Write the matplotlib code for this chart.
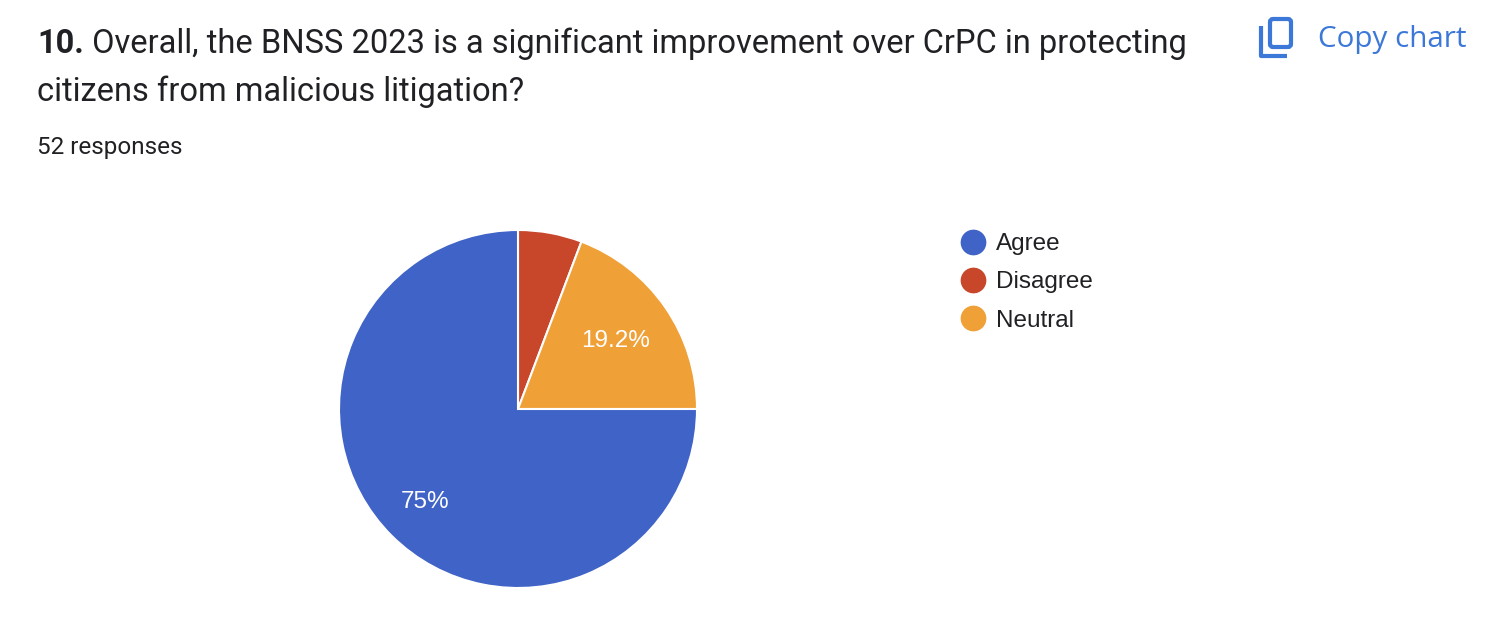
import matplotlib
matplotlib.use("Agg")
import matplotlib.pyplot as plt
from matplotlib.lines import Line2D
from matplotlib.patches import FancyBboxPatch
import numpy as np

# ---- data ----
categories = ["Agree", "Disagree", "Neutral"]
counts = [39, 3, 10]
colors = ["#3f63c6", "#c8462a", "#efa037"]
title_num = "10."
title_line1 = " Overall, the BNSS 2023 is a significant improvement over CrPC in protecting"
title_line2 = "citizens from malicious litigation?"
subtitle = "52 responses"

W, H = 1506, 642
fig = plt.figure(figsize=(W / 100, H / 100), dpi=100)
ax = fig.add_axes([0, 0, 1, 1])
ax.set_xlim(0, W)
ax.set_ylim(0, H)
ax.set_aspect("equal")
ax.axis("off")

def Y(y):
    return H - y

# ---- titles ----
tc = "#202124"
t = ax.text(37, Y(53), title_num, fontsize=23.5, fontweight="bold", family="Roboto", color=tc, va="baseline")
fig.canvas.draw()
bb = t.get_window_extent()
x_after = ax.transData.inverted().transform((bb.x1, 0))[0]
ax.text(x_after, Y(53), title_line1, fontsize=23.5, family="Roboto", color=tc, va="baseline")
ax.text(37, Y(101), title_line2, fontsize=23.5, family="Roboto", color=tc, va="baseline")
ax.text(37, Y(154), subtitle, fontsize=17.5, family="Roboto", color=tc, va="baseline")

# ---- copy chart ----
blue = "#3c78d8"
ax.text(1318, Y(47), "Copy chart", fontsize=21.3, family="Open Sans", color=blue, va="baseline")
ax.add_patch(FancyBboxPatch((1270, Y(47)), 21, 28, boxstyle="round,pad=0,rounding_size=3",
                            fill=False, edgecolor=blue, linewidth=3))
ax.plot([1261.5, 1261.5, 1287], [Y(26), Y(55.5), Y(55.5)], color=blue, linewidth=3,
        solid_capstyle="butt", solid_joinstyle="round")

# ---- pie ----
order = [1, 2, 0]  # drawn clockwise from 12 o'clock: Disagree, Neutral, Agree
vals = [counts[i] for i in order]
cols = [colors[i] for i in order]
wedges, _ = ax.pie(vals, colors=cols, startangle=90, counterclock=False,
                   center=(518, Y(409)), radius=179,
                   wedgeprops=dict(edgecolor="white", linewidth=1.5))
ax.set_xlim(0, W)
ax.set_ylim(0, H)
total = sum(counts)
label_dist = {1: None, 2: 0.665, 0: 0.735}
for w, idx in zip(wedges, order):
    pct = counts[idx] / total * 100
    if label_dist[idx] is None:
        continue
    s = f"{pct:.1f}".rstrip("0").rstrip(".") + "%"
    mid = np.deg2rad((w.theta1 + w.theta2) / 2)
    r = w.r * label_dist[idx]
    cx, cy = w.center
    ax.text(cx + r * np.cos(mid), cy + r * np.sin(mid), s, color="white",
            fontsize=17.5, family="Liberation Sans", ha="center", va="center")

# ---- legend ----
handles = [Line2D([], [], marker="o", linestyle="none", markersize=17.5,
                  markerfacecolor=c, markeredgecolor=c) for c in colors]
leg = ax.legend(handles, categories, loc="upper left", bbox_to_anchor=(961, Y(233)),
                bbox_transform=ax.transData, frameon=False,
                prop=dict(family="Liberation Sans", size=17.5), labelspacing=0.67,
                handletextpad=0.45, handlelength=1.0, borderpad=0, borderaxespad=0)
for txt in leg.get_texts():
    txt.set_color(tc)

fig.savefig("out.png", dpi=100, facecolor="white")
